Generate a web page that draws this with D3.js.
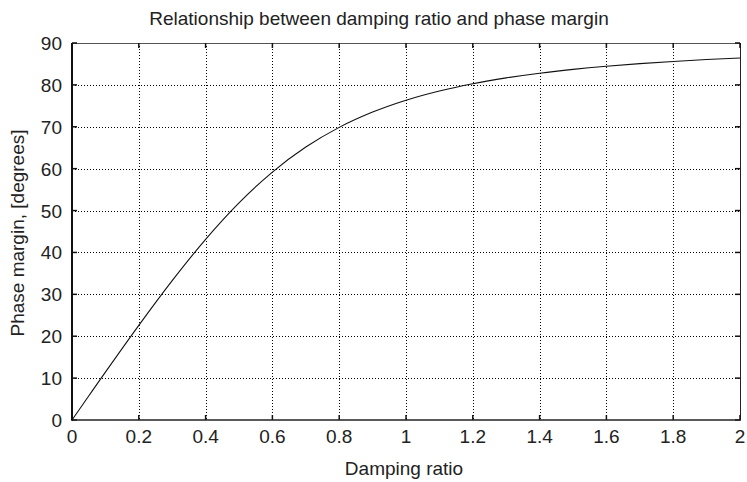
<!DOCTYPE html>
<html>
<head>
<meta charset="utf-8">
<script src="https://cdn.jsdelivr.net/npm/d3@7"></script>
<style>
  html, body { margin: 0; padding: 0; background: #fff; }
  svg { display: block; font-family: "Liberation Sans", Arial, Helvetica, sans-serif; }
</style>
</head>
<body>
<svg id="chart" width="747" height="482"></svg>
<script>
// Damping ratio (x) and corresponding phase margin in degrees (y)
const dampingRatio = [0, 0.05, 0.1, 0.2, 0.3, 0.4, 0.5, 0.6, 0.7, 0.8, 0.9, 1.0,
                      1.1, 1.2, 1.3, 1.4, 1.5, 1.6, 1.7, 1.8, 1.9, 2.0];
const phaseMargin = [0, 5.72, 11.42, 22.60, 33.27, 43.12, 51.83, 59.19, 65.16, 69.86, 73.51, 76.35,
                     78.55, 80.29, 81.67, 82.79, 83.70, 84.45, 85.07, 85.60, 86.05, 86.43];
const xTicks = [0, 0.2, 0.4, 0.6, 0.8, 1, 1.2, 1.4, 1.6, 1.8, 2];
const yTicks = [0, 10, 20, 30, 40, 50, 60, 70, 80, 90];

const svg = d3.select("#chart");
const plotL = 72, plotR = 740, plotT = 43, plotB = 420;
const fontSize = 19, textColor = "#222";

const x = d3.scaleLinear().domain([0, 2]).range([plotL, plotR]);
const y = d3.scaleLinear().domain([0, 90]).range([plotB, plotT]);

// Dotted grid
const grid = svg.append("g").attr("stroke", "#000").attr("stroke-width", 1)
  .attr("stroke-dasharray", "1,2");
grid.selectAll("line.vx").data(xTicks.slice(1, -1)).join("line")
  .attr("x1", d => Math.round(x(d)) + 0.5).attr("x2", d => Math.round(x(d)) + 0.5)
  .attr("y1", plotT).attr("y2", plotB);
grid.selectAll("line.hy").data(yTicks.slice(1, -1)).join("line")
  .attr("x1", plotL).attr("x2", plotR)
  .attr("y1", d => Math.round(y(d)) + 0.5).attr("y2", d => Math.round(y(d)) + 0.5);

// Box: top and right thin, bottom and left heavier
svg.append("line").attr("x1", plotL).attr("x2", plotR).attr("y1", plotT + 0.5).attr("y2", plotT + 0.5)
  .attr("stroke", "#555").attr("stroke-width", 1);
svg.append("line").attr("x1", plotR + 0.5).attr("x2", plotR + 0.5).attr("y1", plotT).attr("y2", plotB)
  .attr("stroke", "#222").attr("stroke-width", 1);

// Inward ticks on all four sides
const tickLen = 5;
const ticks = svg.append("g").attr("stroke", "#111").attr("stroke-width", 1.5);
ticks.selectAll("line.bt").data(xTicks).join("line")
  .attr("x1", d => x(d)).attr("x2", d => x(d)).attr("y1", plotB).attr("y2", plotB - tickLen);
ticks.selectAll("line.tt").data(xTicks).join("line")
  .attr("x1", d => x(d)).attr("x2", d => x(d)).attr("y1", plotT).attr("y2", plotT + tickLen);
ticks.selectAll("line.lt").data(yTicks).join("line")
  .attr("x1", plotL).attr("x2", plotL + tickLen).attr("y1", d => y(d)).attr("y2", d => y(d));
ticks.selectAll("line.rt").data(yTicks).join("line")
  .attr("x1", plotR).attr("x2", plotR - tickLen).attr("y1", d => y(d)).attr("y2", d => y(d));

svg.append("line").attr("x1", plotL).attr("x2", plotR + 1).attr("y1", plotB).attr("y2", plotB)
  .attr("stroke", "#222").attr("stroke-width", 1.6);
svg.append("line").attr("x1", plotL).attr("x2", plotL).attr("y1", plotT).attr("y2", plotB + 0.8)
  .attr("stroke", "#111").attr("stroke-width", 2);

// Tick labels
svg.append("g").selectAll("text").data(xTicks).join("text")
  .attr("x", d => x(d)).attr("y", plotB + 23)
  .attr("text-anchor", "middle").attr("font-size", fontSize).attr("fill", textColor)
  .text(d => d3.format("~g")(d));
svg.append("g").selectAll("text").data(yTicks).join("text")
  .attr("x", plotL - 10).attr("y", d => y(d) + 7)
  .attr("text-anchor", "end").attr("font-size", fontSize).attr("fill", textColor)
  .text(d => d);

// Curve
const line = d3.line().x((d, i) => x(dampingRatio[i])).y(d => y(d)).curve(d3.curveMonotoneX);
svg.append("path").datum(phaseMargin).attr("d", line)
  .attr("fill", "none").attr("stroke", "#111").attr("stroke-width", 1.1);

// Titles
svg.append("text").attr("x", 379).attr("y", 25)
  .attr("text-anchor", "middle").attr("font-size", fontSize).attr("fill", textColor)
  .text("Relationship between damping ratio and phase margin");
svg.append("text").attr("x", 404).attr("y", 475)
  .attr("text-anchor", "middle").attr("font-size", fontSize).attr("fill", textColor)
  .text("Damping ratio");
svg.append("text").attr("transform", `translate(24, 233) rotate(-90)`)
  .attr("text-anchor", "middle").attr("font-size", fontSize).attr("fill", textColor)
  .text("Phase margin, [degrees]");
</script>
</body>
</html>
